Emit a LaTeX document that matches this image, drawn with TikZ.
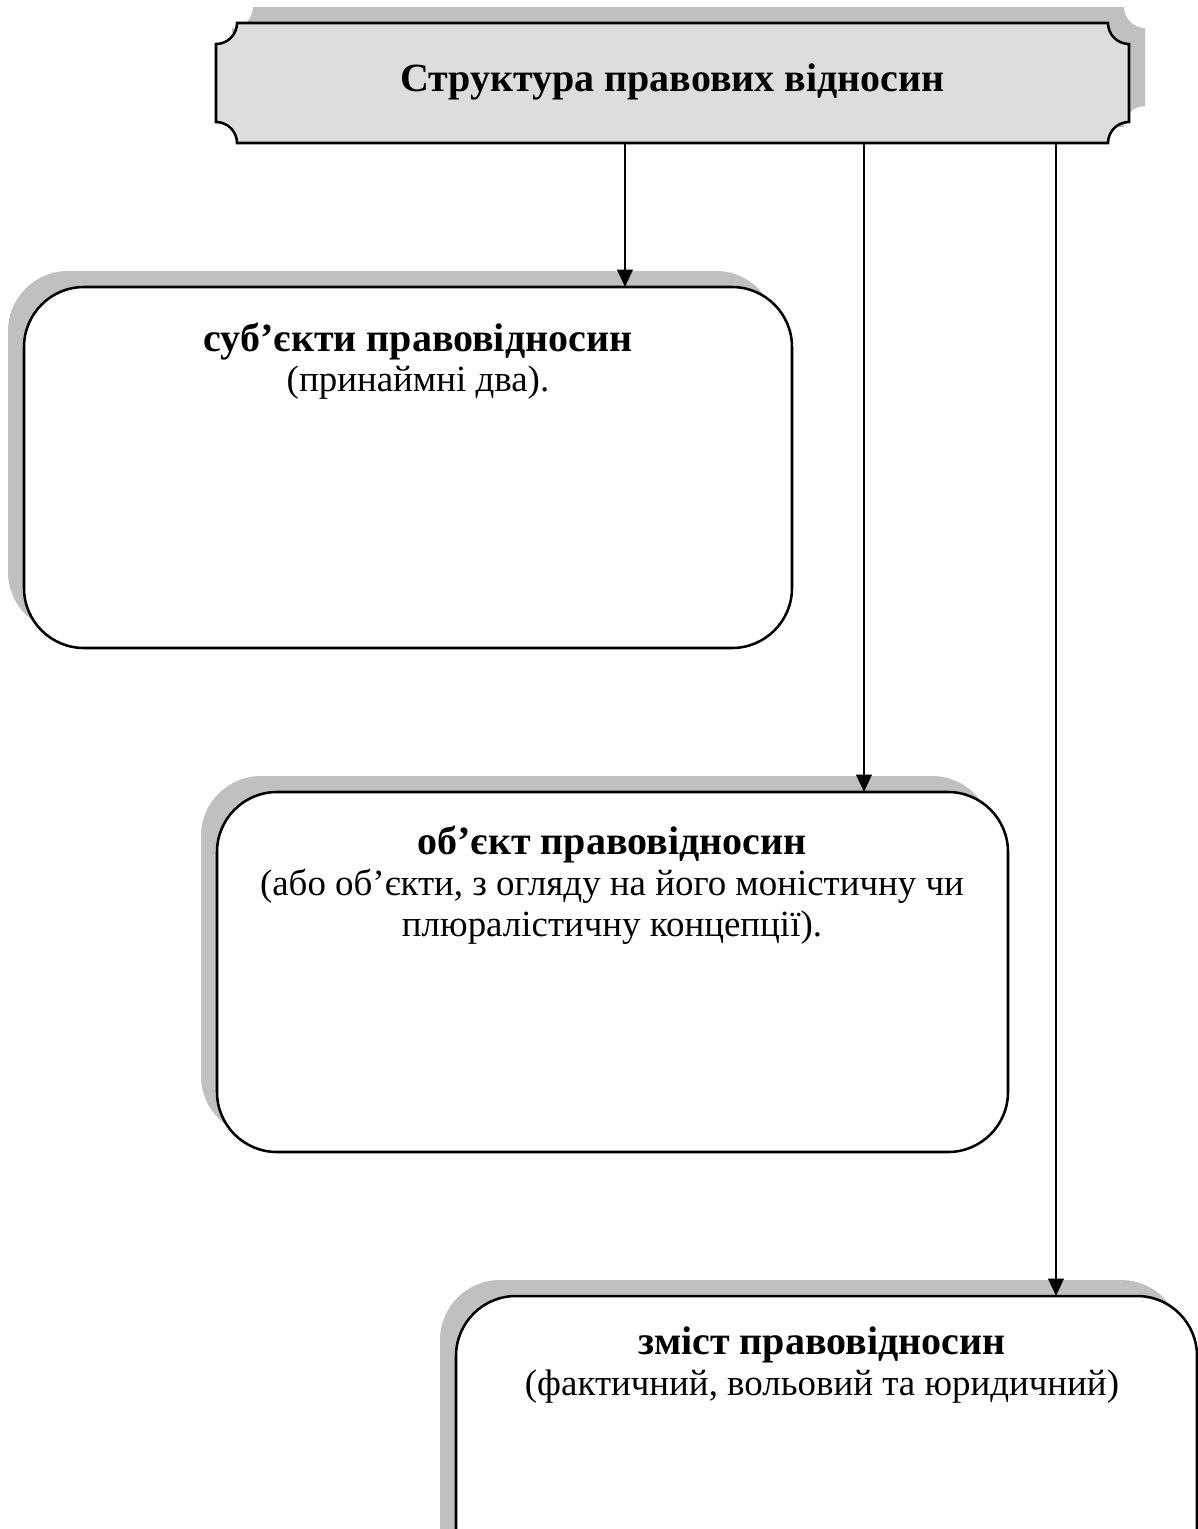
\documentclass[tikz,border=0pt]{standalone}
\usepackage{fontspec}
\setmainfont{Liberation Serif}
\usetikzlibrary{arrows.meta,shadows,calc}
\definecolor{shgray}{HTML}{C0C0C0}
\definecolor{plaquefill}{HTML}{DDDDDD}
\newcommand\headfont{\fontsize{30}{30.5}\selectfont\bfseries}
\newcommand\regfont{\fontsize{27.7}{30.5}\selectfont}
\tikzset{
  roundbox/.style={draw=black, line width=1.9pt, fill=white, rounded corners=45pt,
    inner sep=0pt, outer sep=0pt,
    general shadow={shadow xshift=-12pt, shadow yshift=12pt, fill=shgray, draw=none}},
  bodytext/.style={align=center, inner sep=0pt, font=\regfont},
  titletext/.style={align=center, inner sep=0pt, outer sep=0pt, font=\fontsize{30}{36}\selectfont\bfseries},
  arr/.style={line width=1.9pt, -{Triangle[length=13pt,width=11.5pt]}},
  plaqueline/.style={line width=1.9pt, draw=black, fill=plaquefill}
}
\begin{document}
\begin{tikzpicture}[x=0.75pt,y=-0.75pt]
\useasboundingbox (0,0) rectangle (1198,1529);
\begin{scope}
\clip (0,0) rectangle (1198,1529);
% plaque shadow
\begin{scope}[shift={(16,-16)}]
\fill[shgray] (237,23) -- (1108,23) .. controls (1108,34.6) and (1117.4,44) .. (1129,44) -- (1129,122) .. controls (1117.4,122) and (1108,131.4) .. (1108,143) -- (237,143) .. controls (237,131.4) and (227.6,122) .. (216,122) -- (216,44) .. controls (227.6,44) and (237,34.6) .. (237,23) -- cycle;
\end{scope}
% plaque
\path[plaqueline] (237,23) -- (1108,23) .. controls (1108,34.6) and (1117.4,44) .. (1129,44) -- (1129,122) .. controls (1117.4,122) and (1108,131.4) .. (1108,143) -- (237,143) .. controls (237,131.4) and (227.6,122) .. (216,122) -- (216,44) .. controls (227.6,44) and (237,34.6) .. (237,23) -- cycle;
\node[titletext, minimum width=684.75pt, minimum height=90pt] (title) at (672.5,83) {};
\node[titletext] (titlelabel) at (672.5,82) {Структура правових відносин};

% boxes
\node[roundbox, minimum width=576pt, minimum height=270.75pt] (b1) at (408,467.5) {};
\node[roundbox, minimum width=593.25pt, minimum height=270pt] (b2) at (612.5,972) {};
\node[roundbox, minimum width=555.75pt, minimum height=270pt] (b3) at (826.5,1476) {};

\node[bodytext] (t1) at (418,361) {{\headfont суб’єкти правовідносин}\\(принаймні два).};
\node[bodytext] (t2) at (612,885) {{\headfont об’єкт правовідносин}\\(або об’єкти, з огляду на його моністичну чи\\плюралістичну концепції).};
\node[bodytext] (t3) at (822,1365) {{\headfont зміст правовідносин}\\(фактичний, вольовий та юридичний)};

% connectors
\coordinate (x1) at (625,0);
\coordinate (x2) at (864,0);
\coordinate (x3) at (1056,0);
\draw[arr] (title.south -| x1) -- (b1.north -| x1);
\draw[arr] (title.south -| x2) -- (b2.north -| x2);
\draw[arr] (title.south -| x3) -- (b3.north -| x3);
\end{scope}
\end{tikzpicture}
\end{document}
